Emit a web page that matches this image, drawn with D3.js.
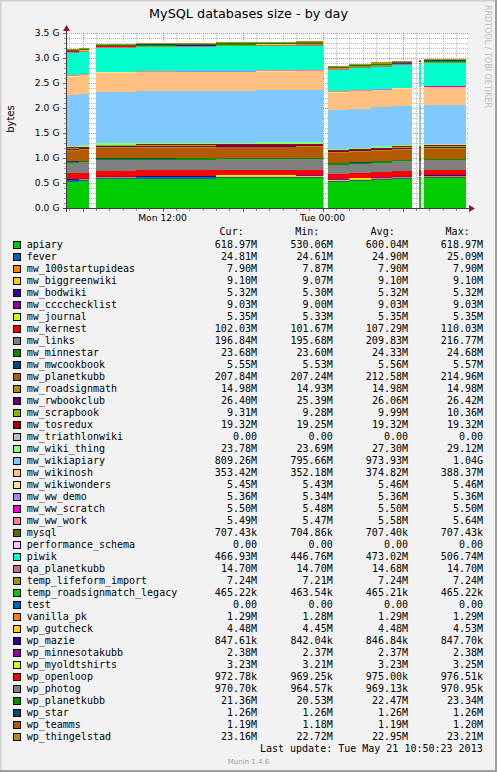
<!DOCTYPE html>
<html>
<head>
<meta charset="utf-8">
<script src="https://cdn.jsdelivr.net/npm/d3@7"></script>
<style>
html, body { margin: 0; padding: 0; background: #f2f2f2; }
svg { display: block; }
</style>
</head>
<body>
<div id="chart"></div>
<script>
const W = 497, H = 772;
const _ = null;

// step boundaries, hours after Mon 00:00 (value i holds from hours[i] to hours[i+1], null = no data)
const hours = [4.83, 5.7, 6.5, 7.0, 10.0, 13.0, 16.0, 19.0, 22.0, 24.0, 24.42, 26.0, 27.6, 29.2, 30.7, 31.23, 31.38, 31.6, 34.76];

// sizes in MiB
const apiary = [540, 552, _, 596, 600, 603, 606, 609, 612, _, 530, 548, 572, 594, _, 612, _, 619];
const fever = [25.0, 25.05, _, 25.09, 25.08, 25.0, 24.95, 24.9, 24.85, _, 24.61, 24.65, 24.7, 24.75, _, 24.8, _, 24.81];
const mw_100startupideas = [7.9, 7.9, _, 7.9, 7.9, 7.9, 7.9, 7.9, 7.9, _, 7.87, 7.88, 7.89, 7.9, _, 7.9, _, 7.9];
const mw_biggreenwiki = [9.1, 9.1, _, 9.1, 9.1, 9.1, 9.1, 9.1, 9.1, _, 9.07, 9.08, 9.09, 9.1, _, 9.1, _, 9.1];
const mw_bodwiki = [5.32, 5.32, _, 5.32, 5.32, 5.32, 5.32, 5.32, 5.32, _, 5.3, 5.31, 5.31, 5.32, _, 5.32, _, 5.32];
const mw_cccchecklist = [9.03, 9.03, _, 9.03, 9.03, 9.03, 9.03, 9.03, 9.03, _, 9.0, 9.01, 9.02, 9.03, _, 9.03, _, 9.03];
const mw_journal = [5.35, 5.35, _, 5.35, 5.35, 5.35, 5.35, 5.35, 5.35, _, 5.33, 5.34, 5.34, 5.35, _, 5.35, _, 5.35];
const mw_kernest = [109, 110, _, 110, 110.03, 110, 110, 110, 110, _, 101.67, 101.8, 101.9, 102, _, 102, _, 102.03];
const mw_links = [214, 215, _, 216, 216.5, 216.77, 216.7, 216.6, 216.5, _, 195.68, 196, 196.3, 196.6, _, 196.8, _, 196.84];
const mw_minnestar = [24.6, 24.65, _, 24.68, 24.68, 24.68, 24.68, 24.68, 24.68, _, 23.6, 23.62, 23.65, 23.67, _, 23.68, _, 23.68];
const mw_mwcookbook = [5.57, 5.57, _, 5.57, 5.57, 5.57, 5.57, 5.57, 5.57, _, 5.53, 5.54, 5.54, 5.55, _, 5.55, _, 5.55];
const mw_planetkubb = [214, 214.5, _, 214.96, 214.9, 214.9, 214.8, 214.8, 214.7, _, 207.24, 207.4, 207.6, 207.8, _, 207.84, _, 207.84];
const mw_roadsignmath = [14.98, 14.98, _, 14.98, 14.98, 14.98, 14.98, 14.98, 14.98, _, 14.93, 14.95, 14.96, 14.98, _, 14.98, _, 14.98];
const mw_rwbookclub = [26.1, 26.2, _, 26.3, 26.35, 26.4, 26.42, 26.42, 26.42, _, 25.39, 25.6, 25.9, 26.2, _, 26.35, _, 26.4];
const mw_scrapbook = [10.3, 10.32, _, 10.36, 10.36, 10.36, 10.36, 10.36, 10.36, _, 9.28, 9.29, 9.3, 9.3, _, 9.31, _, 9.31];
const mw_tosredux = [19.32, 19.32, _, 19.32, 19.32, 19.32, 19.32, 19.32, 19.32, _, 19.25, 19.28, 19.3, 19.32, _, 19.32, _, 19.32];
const mw_triathlonwiki = [0, 0, _, 0, 0, 0, 0, 0, 0, _, 0, 0, 0, 0, _, 0, _, 0];
const mw_wiki_thing = [28.8, 29.0, _, 29.12, 29.12, 29.12, 29.12, 29.12, 29.12, _, 23.69, 23.72, 23.75, 23.77, _, 23.78, _, 23.78];
const mw_wikiapiary = [1040, 1048, _, 1056, 1058, 1060, 1062, 1064, 1065, _, 795.66, 799, 803, 806, _, 808, _, 809.26];
const mw_wikinosh = [384, 386, _, 387, 387.5, 388, 388.2, 388.37, 388.3, _, 352.18, 352.5, 352.9, 353.2, _, 353.4, _, 353.42];
const mw_wikiwonders = [5.46, 5.46, _, 5.46, 5.46, 5.46, 5.46, 5.46, 5.46, _, 5.43, 5.44, 5.45, 5.45, _, 5.45, _, 5.45];
const mw_ww_demo = [5.36, 5.36, _, 5.36, 5.36, 5.36, 5.36, 5.36, 5.36, _, 5.34, 5.35, 5.35, 5.36, _, 5.36, _, 5.36];
const mw_ww_scratch = [5.5, 5.5, _, 5.5, 5.5, 5.5, 5.5, 5.5, 5.5, _, 5.48, 5.49, 5.49, 5.5, _, 5.5, _, 5.5];
const mw_ww_work = [5.6, 5.62, _, 5.64, 5.64, 5.64, 5.64, 5.64, 5.64, _, 5.47, 5.48, 5.48, 5.49, _, 5.49, _, 5.49];
const mysql = [0.691, 0.691, _, 0.691, 0.691, 0.691, 0.691, 0.691, 0.691, _, 0.688, 0.689, 0.69, 0.691, _, 0.691, _, 0.691];
const performance_schema = [0, 0, _, 0, 0, 0, 0, 0, 0, _, 0, 0, 0, 0, _, 0, _, 0];
const piwik = [455, 462, _, 478, 486, 492, 498, 503, 506.74, _, 446.76, 452, 458, 463, _, 465, _, 466.93];
const qa_planetkubb = [14.7, 14.7, _, 14.7, 14.7, 14.7, 14.7, 14.7, 14.7, _, 14.7, 14.7, 14.7, 14.7, _, 14.7, _, 14.7];
const temp_lifeform_import = [7.24, 7.24, _, 7.24, 7.24, 7.24, 7.24, 7.24, 7.24, _, 7.21, 7.22, 7.23, 7.24, _, 7.24, _, 7.24];
const temp_roadsignmatch_legacy = [0.454, 0.454, _, 0.454, 0.454, 0.454, 0.454, 0.454, 0.454, _, 0.453, 0.453, 0.454, 0.454, _, 0.454, _, 0.454];
const test = [0, 0, _, 0, 0, 0, 0, 0, 0, _, 0, 0, 0, 0, _, 0, _, 0];
const vanilla_pk = [1.29, 1.29, _, 1.29, 1.29, 1.29, 1.29, 1.29, 1.29, _, 1.28, 1.28, 1.29, 1.29, _, 1.29, _, 1.29];
const wp_gutcheck = [4.5, 4.52, _, 4.53, 4.53, 4.5, 4.48, 4.48, 4.48, _, 4.45, 4.46, 4.47, 4.48, _, 4.48, _, 4.48];
const wp_mazie = [0.828, 0.828, _, 0.828, 0.828, 0.828, 0.828, 0.828, 0.828, _, 0.822, 0.824, 0.826, 0.827, _, 0.828, _, 0.828];
const wp_minnesotakubb = [2.37, 2.37, _, 2.37, 2.37, 2.37, 2.37, 2.37, 2.37, _, 2.37, 2.37, 2.37, 2.38, _, 2.38, _, 2.38];
const wp_myoldtshirts = [3.24, 3.25, _, 3.25, 3.24, 3.23, 3.23, 3.23, 3.23, _, 3.21, 3.22, 3.22, 3.23, _, 3.23, _, 3.23];
const wp_openloop = [0.953, 0.954, _, 0.954, 0.952, 0.952, 0.951, 0.951, 0.951, _, 0.947, 0.948, 0.949, 0.95, _, 0.95, _, 0.95];
const wp_photog = [0.948, 0.948, _, 0.948, 0.948, 0.948, 0.948, 0.948, 0.948, _, 0.942, 0.944, 0.946, 0.947, _, 0.948, _, 0.948];
const wp_planetkubb = [22.5, 22.8, _, 23.0, 23.2, 23.34, 23.3, 23.3, 23.2, _, 20.53, 20.8, 21.0, 21.2, _, 21.3, _, 21.36];
const wp_star = [1.26, 1.26, _, 1.26, 1.26, 1.26, 1.26, 1.26, 1.26, _, 1.26, 1.26, 1.26, 1.26, _, 1.26, _, 1.26];
const wp_teamms = [1.19, 1.19, _, 1.2, 1.2, 1.19, 1.19, 1.19, 1.19, _, 1.18, 1.18, 1.19, 1.19, _, 1.19, _, 1.19];
const wp_thingelstad = [22.8, 22.85, _, 22.9, 22.95, 23.0, 23.05, 23.1, 23.15, _, 22.72, 22.8, 22.9, 23.0, _, 23.1, _, 23.16];

const names = ["apiary", "fever", "mw_100startupideas", "mw_biggreenwiki", "mw_bodwiki", "mw_cccchecklist",
  "mw_journal", "mw_kernest", "mw_links", "mw_minnestar", "mw_mwcookbook", "mw_planetkubb", "mw_roadsignmath",
  "mw_rwbookclub", "mw_scrapbook", "mw_tosredux", "mw_triathlonwiki", "mw_wiki_thing", "mw_wikiapiary",
  "mw_wikinosh", "mw_wikiwonders", "mw_ww_demo", "mw_ww_scratch", "mw_ww_work", "mysql", "performance_schema",
  "piwik", "qa_planetkubb", "temp_lifeform_import", "temp_roadsignmatch_legacy", "test", "vanilla_pk",
  "wp_gutcheck", "wp_mazie", "wp_minnesotakubb", "wp_myoldtshirts", "wp_openloop", "wp_photog",
  "wp_planetkubb", "wp_star", "wp_teamms", "wp_thingelstad"];
const values = [apiary, fever, mw_100startupideas, mw_biggreenwiki, mw_bodwiki, mw_cccchecklist,
  mw_journal, mw_kernest, mw_links, mw_minnestar, mw_mwcookbook, mw_planetkubb, mw_roadsignmath,
  mw_rwbookclub, mw_scrapbook, mw_tosredux, mw_triathlonwiki, mw_wiki_thing, mw_wikiapiary,
  mw_wikinosh, mw_wikiwonders, mw_ww_demo, mw_ww_scratch, mw_ww_work, mysql, performance_schema,
  piwik, qa_planetkubb, temp_lifeform_import, temp_roadsignmatch_legacy, test, vanilla_pk,
  wp_gutcheck, wp_mazie, wp_minnesotakubb, wp_myoldtshirts, wp_openloop, wp_photog,
  wp_planetkubb, wp_star, wp_teamms, wp_thingelstad];

// legend columns
const curText = ["618.97M","24.81M","7.90M","9.10M","5.32M","9.03M","5.35M","102.03M","196.84M","23.68M","5.55M","207.84M","14.98M","26.40M","9.31M","19.32M","0.00","23.78M","809.26M","353.42M","5.45M","5.36M","5.50M","5.49M","707.43k","0.00","466.93M","14.70M","7.24M","465.22k","0.00","1.29M","4.48M","847.61k","2.38M","3.23M","972.78k","970.70k","21.36M","1.26M","1.19M","23.16M"];
const minText = ["530.06M","24.61M","7.87M","9.07M","5.30M","9.00M","5.33M","101.67M","195.68M","23.60M","5.53M","207.24M","14.93M","25.39M","9.28M","19.25M","0.00","23.69M","795.66M","352.18M","5.43M","5.34M","5.48M","5.47M","704.86k","0.00","446.76M","14.70M","7.21M","463.54k","0.00","1.28M","4.45M","842.04k","2.37M","3.21M","969.25k","964.57k","20.53M","1.26M","1.18M","22.72M"];
const avgText = ["600.04M","24.90M","7.90M","9.10M","5.32M","9.03M","5.35M","107.29M","209.83M","24.33M","5.56M","212.58M","14.98M","26.06M","9.99M","19.32M","0.00","27.30M","973.93M","374.82M","5.46M","5.36M","5.50M","5.58M","707.40k","0.00","473.02M","14.68M","7.24M","465.21k","0.00","1.29M","4.48M","846.84k","2.37M","3.23M","975.00k","969.13k","22.47M","1.26M","1.19M","22.95M"];
const maxText = ["618.97M","25.09M","7.90M","9.10M","5.32M","9.03M","5.35M","110.03M","216.77M","24.68M","5.57M","214.96M","14.98M","26.42M","10.36M","19.32M","0.00","29.12M","1.04G","388.37M","5.46M","5.36M","5.50M","5.64M","707.43k","0.00","506.74M","14.70M","7.24M","465.22k","0.00","1.29M","4.53M","847.70k","2.38M","3.25M","976.51k","970.95k","23.34M","1.26M","1.20M","23.21M"];

// munin colour cycle
const palette = ["#00CC00", "#0066B3", "#FF8000", "#FFCC00", "#330099", "#990099", "#CCFF00", "#FF0000", "#808080",
  "#008F00", "#00487D", "#B35A00", "#B38F00", "#6B006B", "#8FB300", "#B30000", "#BEBEBE", "#80FF80",
  "#80C9FF", "#FFC080", "#FFE680", "#AA80FF", "#EE00CC", "#FF8080", "#666600", "#FFBFFF", "#00FFCC",
  "#CC6699", "#999900"];

const base = new Date(2013, 4, 20); // Mon May 20 2013
const at = h => new Date(+base + h * 3600e3);

const x = d3.scaleTime().domain([at(4 + 50 / 60), at(34 + 50 / 60)]).range([67, 467]);
const y = d3.scaleLinear().domain([0, 3.5]).range([208, 33]);

const svg = d3.select("#chart").append("svg")
    .attr("width", W)
    .attr("height", H);

svg.append("rect").attr("width", W).attr("height", H).attr("fill", "#f2f2f2");
// 3d frame
svg.append("path").attr("d", `M0,${H} V0 H${W}`).attr("fill", "none").attr("stroke", "#cfcfcf").attr("stroke-width", 3);
svg.append("path").attr("d", `M0,${H - 1} H${W - 1} V0`).attr("fill", "none").attr("stroke", "#9e9e9e").attr("stroke-width", 2);

// canvas
svg.append("rect").attr("x", 67).attr("y", 33).attr("width", 400).attr("height", 175).attr("fill", "#ffffff");

const grid = svg.append("g").attr("shape-rendering", "crispEdges").attr("stroke-dasharray", "1,1");
const px = v => Math.round(v) + 0.5;

const minorHours = d3.timeHour.every(1).range(...x.domain()).filter(d => d.getHours() % 6 !== 0);
const majorHours = d3.timeHour.every(6).range(...x.domain());
const minorY = d3.range(1, 35).filter(i => i % 5 !== 0).map(i => i / 10);
const majorY = d3.range(0, 8).map(i => i / 2);

grid.selectAll(".vmin").data(minorHours).enter().append("line")
    .attr("x1", d => px(x(d))).attr("x2", d => px(x(d)))
    .attr("y1", 33).attr("y2", 208)
    .attr("stroke", "#b8b8b8");
grid.selectAll(".hmin").data(minorY).enter().append("line")
    .attr("x1", 67).attr("x2", 468)
    .attr("y1", d => px(y(d))).attr("y2", d => px(y(d)))
    .attr("stroke", "#b8b8b8");
grid.selectAll(".vmaj").data(majorHours).enter().append("line")
    .attr("x1", d => px(x(d))).attr("x2", d => px(x(d)))
    .attr("y1", 33).attr("y2", 208)
    .attr("stroke", "#e08080");
grid.selectAll(".hmaj").data(majorY.filter(v => v > 0)).enter().append("line")
    .attr("x1", 67).attr("x2", 468)
    .attr("y1", d => px(y(d))).attr("y2", d => px(y(d)))
    .attr("stroke", "#e08080");

// rows for the stack, with an extra point closing each run before a gap
const rows = [];
for (let i = 0; i < hours.length - 1; i++) {
  if (apiary[i] === null) { rows.push({ t: at(hours[i]), gap: true }); continue; }
  const row = { t: at(hours[i]), gap: false };
  names.forEach((n, k) => row[n] = values[k][i]);
  rows.push(row);
  if (i === hours.length - 2 || apiary[i + 1] === null) rows.push({ ...row, t: at(hours[i + 1]) });
}

const layers = d3.stack()
    .keys(names)
    .value((d, key) => d.gap ? 0 : d[key] / 1024)(rows);

const area = d3.area()
    .defined(d => !d.data.gap)
    .curve(d3.curveStepAfter)
    .x(d => x(d.data.t))
    .y0(d => y(d[0]))
    .y1(d => y(d[1]));

svg.append("g").attr("shape-rendering", "crispEdges")
  .selectAll("path")
    .data(layers).enter()
    .append("path")
    .attr("fill", (d, i) => palette[i % palette.length])
    .attr("d", area);

// ticks
const ticks = svg.append("g").attr("shape-rendering", "crispEdges");
ticks.selectAll(".xt").data(minorHours).enter().append("line")
    .attr("x1", d => px(x(d))).attr("x2", d => px(x(d)))
    .attr("y1", 208).attr("y2", 211).attr("stroke", "#909090");
ticks.selectAll(".xT").data(majorHours).enter().append("line")
    .attr("x1", d => px(x(d))).attr("x2", d => px(x(d)))
    .attr("y1", 208).attr("y2", 212).attr("stroke", "#d04040");
ticks.selectAll(".yt").data(minorY).enter().append("line")
    .attr("x1", 64).attr("x2", 67)
    .attr("y1", d => px(y(d))).attr("y2", d => px(y(d))).attr("stroke", "#909090");
ticks.selectAll(".yT").data(majorY).enter().append("line")
    .attr("x1", 63).attr("x2", 67)
    .attr("y1", d => px(y(d))).attr("y2", d => px(y(d))).attr("stroke", "#d04040");

// axes with arrows
ticks.append("line").attr("x1", 63).attr("x2", 470).attr("y1", 208.5).attr("y2", 208.5).attr("stroke", "#404040");
ticks.append("line").attr("x1", 66.5).attr("x2", 66.5).attr("y1", 212).attr("y2", 29).attr("stroke", "#404040");
svg.append("path").attr("d", "M469,205 L475,208.5 L469,212 Z").attr("fill", "#8a1c1c");
svg.append("path").attr("d", "M63,31 L66.5,25 L70,31 Z").attr("fill", "#8a1c1c");

const sans = "'DejaVu Sans', 'Liberation Sans', sans-serif";
const mono = "'DejaVu Sans Mono', 'Liberation Mono', monospace";

svg.append("g").selectAll("text")
    .data(majorY).enter().append("text")
    .attr("x", 59.5).attr("y", d => y(d) + 3.4)
    .attr("text-anchor", "end")
    .attr("font-family", sans).attr("font-size", 9.2)
    .text(d => d3.format(".1f")(d) + " G");

svg.append("g").selectAll("text")
    .data(d3.timeHour.every(12).range(...x.domain())).enter().append("text")
    .attr("x", d => x(d)).attr("y", 221)
    .attr("text-anchor", "middle")
    .attr("font-family", sans).attr("font-size", 9.2)
    .text(d3.timeFormat("%a %H:%M"));

svg.append("text")
    .attr("x", 248.5).attr("y", 18)
    .attr("text-anchor", "middle")
    .attr("font-family", sans).attr("font-size", 12.8)
    .text("MySQL databases size - by day");

svg.append("text")
    .attr("transform", "translate(13.5,119) rotate(-90)")
    .attr("text-anchor", "middle")
    .attr("font-family", sans).attr("font-size", 10)
    .text("bytes");

svg.append("text")
    .attr("transform", "translate(484.5,5) rotate(90)")
    .attr("font-family", sans).attr("font-size", 8)
    .attr("fill", "#bbbbbb")
    .text("RRDTOOL / TOBI OETIKER");

// legend
const legend = svg.append("g").attr("font-family", mono).attr("font-size", 10);
const colEnds = [257, 332.7, 408, 483];
["Cur:", "Min:", "Avg:", "Max:"].forEach((h, j) => {
  legend.append("text").attr("x", colEnds[j] - 13.3).attr("y", 235).attr("text-anchor", "end").text(h);
});
const item = legend.selectAll(".item")
    .data(names).enter().append("g")
    .attr("transform", (d, i) => `translate(0,${247.7 + i * 12})`);
item.append("rect")
    .attr("x", 13.5).attr("y", -6.5).attr("width", 7).attr("height", 7)
    .attr("fill", (d, i) => palette[i % palette.length])
    .attr("stroke", "#000").attr("shape-rendering", "crispEdges");
item.append("text").attr("x", 26.7).text(d => d);
[curText, minText, avgText, maxText].forEach((col, j) => {
  item.append("text").attr("x", colEnds[j]).attr("text-anchor", "end").text((d, i) => col[i]);
});

legend.append("text")
    .attr("x", 482.7).attr("y", 751.7)
    .attr("text-anchor", "end")
    .text("Last update: Tue May 21 10:50:23 2013");

svg.append("text")
    .attr("x", 248.5).attr("y", 764)
    .attr("text-anchor", "middle")
    .attr("font-family", sans).attr("font-size", 7)
    .attr("fill", "#a0a0a0")
    .text("Munin 1.4.6");
</script>
</body>
</html>
